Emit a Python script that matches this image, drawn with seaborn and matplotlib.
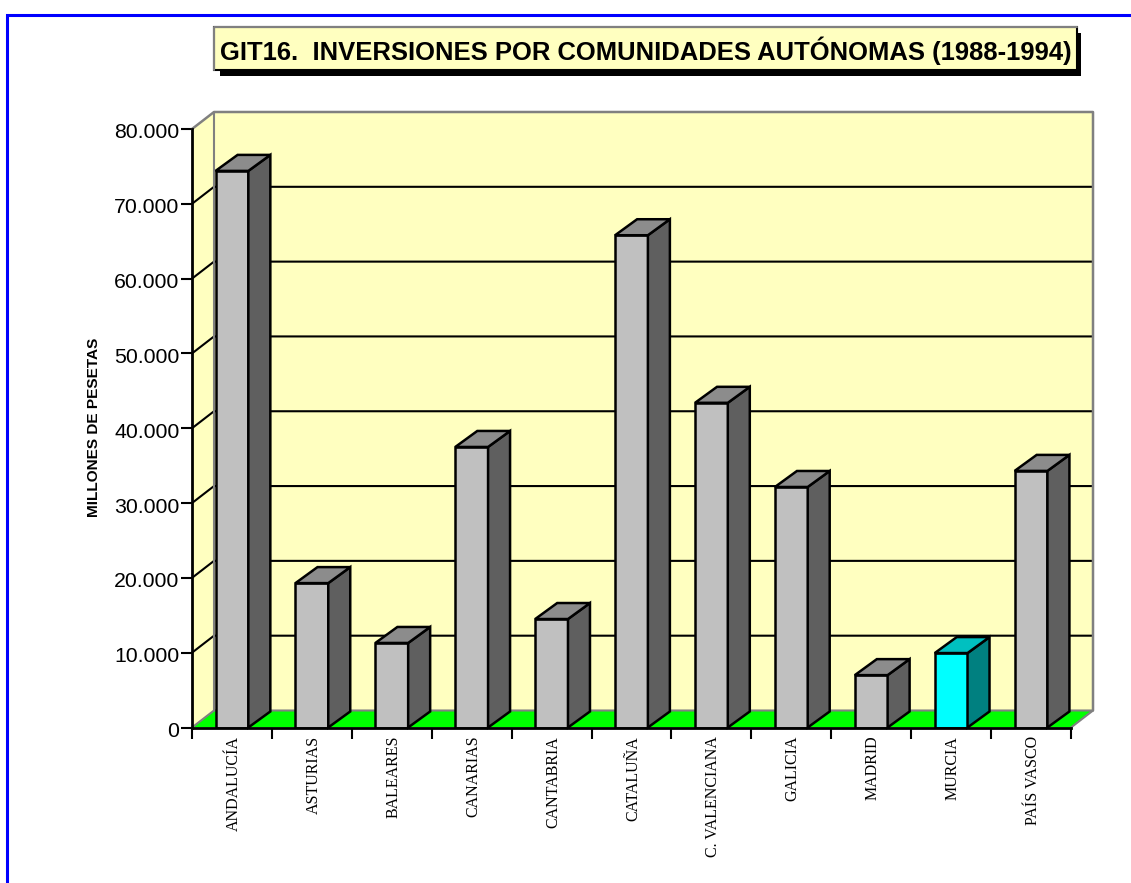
import pandas as pd
import matplotlib
matplotlib.use("Agg")
import matplotlib.pyplot as plt
from matplotlib.patches import Polygon, Rectangle
from matplotlib.transforms import Affine2D, ScaledTranslation
import seaborn as sns

comunidades = ["ANDALUCÍA", "ASTURIAS", "BALEARES", "CANARIAS", "CANTABRIA", "CATALUÑA",
               "C. VALENCIANA", "GALICIA", "MADRID", "MURCIA", "PAÍS VASCO"]
inversion = [74400, 19300, 11300, 37500, 14500, 65800, 43400, 32150, 7000, 9950, 34300]
y_ticks = [0, 10000, 20000, 30000, 40000, 50000, 60000, 70000, 80000]
y_labels = ["0", "10.000", "20.000", "30.000", "40.000", "50.000", "60.000", "70.000", "80.000"]
titulo = "GIT16.  INVERSIONES POR COMUNIDADES AUTÓNOMAS (1988-1994)"
y_titulo = "MILLONES DE PESETAS"

# front, side, top of each bar
GRIS = ("#c0c0c0", "#5f5f5f", "#8c8c8c")
CIAN = ("#00ffff", "#008080", "#00c0c0")
colores = [CIAN if c == "MURCIA" else GRIS for c in comunidades]

AMARILLO = "#ffffc0"
VERDE = "#00ff00"
BORDE = "#808080"

# depth of the fake 3D, in data units
DX = 22 / 79.9
DY = 17 / 74.8 * 10000
DY_BARRA = 16 / 74.8 * 10000


def draw_walls(ax):
    """Walls, floor and gridlines behind the bars"""
    x0, x1 = -0.5, 10.5
    top = 80000
    ax.add_patch(Polygon([(x0, 0), (x0 + DX, DY), (x0 + DX, top + DY), (x0, top)],
                         fc=AMARILLO, ec="none", clip_on=False, zorder=0.5))
    ax.add_patch(Polygon([(x0 + DX, DY), (x0 + DX, top + DY), (x1 + DX, top + DY), (x1 + DX, DY)],
                         fc=AMARILLO, ec="none", clip_on=False, zorder=0.6))
    ax.add_patch(Polygon([(x0, 0), (x0 + DX, DY), (x1 + DX, DY), (x1, 0)],
                         fc=VERDE, ec="none", clip_on=False, zorder=0.7))
    for v in y_ticks[1:-1]:
        ax.plot([x0, x0 + DX, x1 + DX], [v, v + DY, v + DY], color="black", lw=1.5,
                clip_on=False, zorder=1)
    ax.plot([x0, x0 + DX, x1 + DX, x1 + DX], [top, top + DY, top + DY, DY], color=BORDE, lw=1.8,
            clip_on=False, zorder=1.1)
    ax.plot([x0, x0 + DX, x1 + DX, x1], [0, DY, DY, 0], color=BORDE, lw=1.5,
            clip_on=False, zorder=1.1)
    ax.plot([x0 + DX, x0 + DX], [DY, top + DY], color=BORDE, lw=1.5, clip_on=False, zorder=1.1)


def draw_depth(ax, bars):
    """Side and top faces, built from the bars seaborn has drawn"""
    for bar, (_, lado, tapa) in zip(bars, colores):
        xa = bar.get_x()
        xb = xa + bar.get_width()
        h = bar.get_height()
        ax.add_patch(Polygon([(xb, 0), (xb + DX, DY_BARRA), (xb + DX, h + DY_BARRA), (xb, h)],
                             fc=lado, ec="black", lw=1.8, joinstyle="miter", clip_on=False, zorder=3))
        ax.add_patch(Polygon([(xa, h), (xa + DX, h + DY_BARRA), (xb + DX, h + DY_BARRA), (xb, h)],
                             fc=tapa, ec="black", lw=1.8, joinstyle="miter", clip_on=False, zorder=3))


def main():
    sns.set_theme(style="white")
    plt.rcParams["font.family"] = ["Liberation Sans", "DejaVu Sans"]

    fig = plt.figure(figsize=(11.31, 8.83), dpi=100, facecolor="white")
    ax = fig.add_axes([192 / 1131, 1 - 727.5 / 883, 879 / 1131, 598.5 / 883])
    ax.patch.set_visible(False)

    data = pd.DataFrame({"comunidad": comunidades, "inversion": inversion})
    sns.barplot(data=data, x="comunidad", y="inversion", hue="comunidad",
                palette=[c[0] for c in colores], legend=False, width=0.41, saturation=1,
                edgecolor="black", linewidth=1.8, zorder=3, ax=ax)
    bars = list(ax.patches)

    ax.set_xlim(-0.5, 10.5)
    ax.set_ylim(0, 80000)
    draw_walls(ax)
    draw_depth(ax, bars)

    ax.set_xlabel("")
    ax.set_ylabel("")
    ax.set_yticks(y_ticks, y_labels, fontsize=15.3, color="black")
    ax.set_xticks([i - 0.5 for i in range(len(comunidades) + 1)], [""] * (len(comunidades) + 1))
    ax.set_xticks(range(len(comunidades)), comunidades, minor=True, rotation=90,
                  fontsize=11.5, family="Liberation Serif", color="black", va="top", ha="center")
    ax.tick_params(axis="y", length=8, width=1.5, color="black", pad=1, left=True)
    ax.tick_params(axis="x", which="major", length=8, width=1.5, color="black", bottom=True)
    ax.tick_params(axis="x", which="minor", length=0, pad=6)

    # tick labels sit a little lower / further right in the original
    shift_y = ScaledTranslation(0, -2 / 100, fig.dpi_scale_trans)
    for label in ax.get_yticklabels():
        label.set_transform(label.get_transform() + shift_y)
    shift_x = ScaledTranslation(1.5 / 100, 0, fig.dpi_scale_trans)
    for label in ax.get_xticklabels(minor=True):
        label.set_transform(label.get_transform() + shift_x)

    sns.despine(ax=ax, top=True, right=True)
    for lado in ("left", "bottom"):
        ax.spines[lado].set_color("black")
        ax.spines[lado].set_linewidth(2)
        ax.spines[lado].set_zorder(4)

    # page coordinates in reference pixels, y going down
    px = Affine2D().scale(1 / 1131, -1 / 883).translate(0, 1) + fig.transFigure

    fig.add_artist(Rectangle((220, 33), 861, 43, transform=px, fc="black", ec="none"))
    fig.add_artist(Rectangle((214, 27), 863, 43, transform=px, fc=AMARILLO, ec="black", lw=1.5))
    fig.add_artist(plt.Line2D([214, 214, 1077], [70, 27, 27], transform=px, color=BORDE, lw=1.5))
    fig.text(645.5, 51, titulo, transform=px, fontsize=18.45, fontweight="bold",
             color="black", ha="center", va="center")
    fig.text(94, 427, y_titulo, transform=px, fontsize=11.1, fontweight="bold", color="black",
             rotation=90, ha="center", va="center")

    # blue page frame, top and left only
    fig.add_artist(plt.Line2D([7, 7, 1131], [883, 14.5, 14.5], transform=px, color="#0000ff", lw=2.2,
                              solid_joinstyle="miter"))

    fig.savefig("out.png", dpi=100)


if __name__ == "__main__":
    main()
